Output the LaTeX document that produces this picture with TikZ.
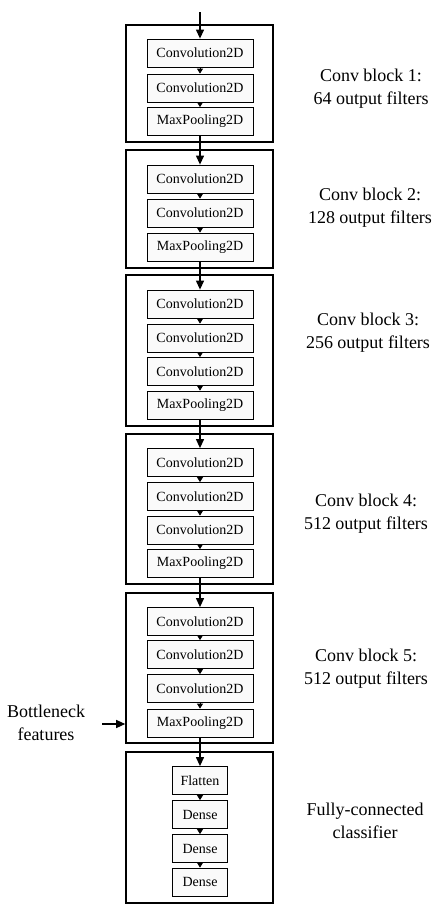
\documentclass[tikz,border=0pt]{standalone}
\usepackage{fontspec}
\setmainfont{Liberation Serif}
\usetikzlibrary{arrows.meta}
\begin{document}
\begin{tikzpicture}[x=1pt,y=-1pt,
  outer/.style={draw,line width=1.6pt,minimum width=147pt,inner sep=0pt},
  layer/.style={draw,line width=0.8pt,fill=gray!4,minimum width=106pt,minimum height=28pt,inner sep=0pt,font=\fontsize{14}{16}\selectfont},
  fclayer/.style={layer,minimum width=55pt},
  lbl/.style={align=center,font=\fontsize{18}{23}\selectfont},
  mainarrow/.style={line width=1.2pt,-{Triangle[length=9pt,width=8pt]}},
  smallarrow/.style={line width=0.8pt,-{Triangle[length=5pt,width=6pt]}}]
\useasboundingbox (0,0) rectangle (439,910);
% outer blocks
\node[outer,minimum height=117pt] (b1) at (199.5,83.5) {};
\node[outer,minimum height=118pt] (b2) at (199.5,209) {};
\node[outer,minimum height=151pt] (b3) at (199.5,350.5) {};
\node[outer,minimum height=150pt] (b4) at (199.5,509) {};
\node[outer,minimum height=150pt] (b5) at (199.5,668) {};
\node[outer,minimum height=151pt] (b6) at (199.5,827.5) {};
% block 1
\node[layer] (c11) at (200,53) {Convolution2D};
\node[layer] (c12) at (200,88) {Convolution2D};
\node[layer] (p1) at (200,121.5) {MaxPooling2D};
% block 2
\node[layer] (c21) at (200,179) {Convolution2D};
\node[layer] (c22) at (200,213) {Convolution2D};
\node[layer] (p2) at (200,247) {MaxPooling2D};
% block 3
\node[layer] (c31) at (200,304) {Convolution2D};
\node[layer] (c32) at (200,338) {Convolution2D};
\node[layer] (c33) at (200,371.5) {Convolution2D};
\node[layer] (p3) at (200,405) {MaxPooling2D};
% block 4
\node[layer] (c41) at (200,462.5) {Convolution2D};
\node[layer] (c42) at (200,496.5) {Convolution2D};
\node[layer] (c43) at (200,530) {Convolution2D};
\node[layer] (p4) at (200,563.5) {MaxPooling2D};
% block 5
\node[layer] (c51) at (200,621.5) {Convolution2D};
\node[layer] (c52) at (200,654.5) {Convolution2D};
\node[layer] (c53) at (200,688.5) {Convolution2D};
\node[layer] (p5) at (200,723) {MaxPooling2D};
% classifier
\node[fclayer] (fl) at (200,780.5) {Flatten};
\node[fclayer] (d1) at (200,814.5) {Dense};
\node[fclayer] (d2) at (200,848.5) {Dense};
\node[fclayer] (d3) at (200,882) {Dense};
% main arrows
\coordinate (in) at (200,12);
\draw[mainarrow] (in) -- (c11.north);
\draw[mainarrow] (p1.south) -- (c21.north);
\draw[mainarrow] (p2.south) -- (c31.north);
\draw[mainarrow] (p3.south) -- (c41.north);
\draw[mainarrow] (p4.south) -- (c51.north);
\draw[mainarrow] (p5.south) -- (fl.north);
% small arrows
\foreach \a/\b in {c11/c12,c12/p1,c21/c22,c22/p2,c31/c32,c32/c33,c33/p3,c41/c42,c42/c43,c43/p4,c51/c52,c52/c53,c53/p5,fl/d1,d1/d2,d2/d3}
  \draw[smallarrow] (\a.south) -- (\b.north);
% labels
\node[lbl] (l1) at (371,89) {Conv block 1:\\64 output filters};
\node[lbl] (l2) at (370,208) {Conv block 2:\\128 output filters};
\node[lbl] (l3) at (368,333) {Conv block 3:\\256 output filters};
\node[lbl] (l4) at (366,514) {Conv block 4:\\512 output filters};
\node[lbl] (l5) at (366,669) {Conv block 5:\\512 output filters};
\node[lbl] (l6) at (365,821) {Fully-connected\\classifier};
\node[lbl] (bn) at (46,723) {Bottleneck\\features};
\coordinate (bnstart) at (102,724);
\draw[mainarrow] (bnstart) -- (bnstart -| b5.west);
\end{tikzpicture}
\end{document}
